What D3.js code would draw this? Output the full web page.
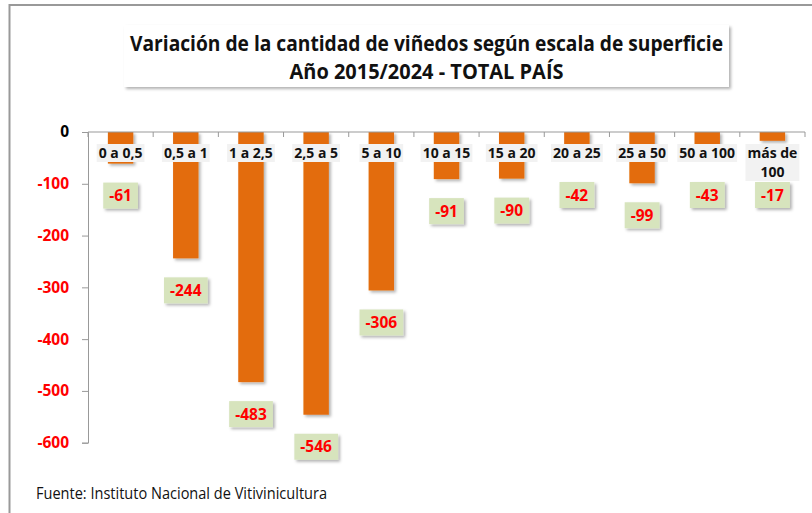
<!DOCTYPE html>
<html>
<head>
<meta charset="utf-8">
<script src="https://cdn.jsdelivr.net/npm/d3@7"></script>
<style>
  body { margin: 0; background: #fff; }
  svg { display: block; }
</style>
</head>
<body>
<div id="chart"></div>
<script>
// data
const categories = ["0 a 0,5", "0,5 a 1", "1 a 2,5", "2,5 a 5", "5 a 10", "10 a 15",
                    "15 a 20", "20 a 25", "25 a 50", "50 a 100", "más de 100"];
const variation = [-61, -244, -483, -546, -306, -91, -90, -42, -99, -43, -17];
const yTicks = [0, -100, -200, -300, -400, -500, -600];
const titleLines = ["Variación de la cantidad  de viñedos según escala de superficie",
                    "Año 2015/2024 - TOTAL PAÍS"];
const source = "Fuente: Instituto Nacional de Vitivinicultura";

const width = 812, height = 513;
const svg = d3.select("#chart").append("svg")
    .attr("width", width)
    .attr("height", height);

// drop shadow used on bars and boxes
const defs = svg.append("defs");
defs.append("filter")
    .attr("id", "shadow")
    .attr("x", "-20%").attr("y", "-20%")
    .attr("width", "150%").attr("height", "150%")
    .append("feDropShadow")
    .attr("dx", 2).attr("dy", 2)
    .attr("stdDeviation", 1.5)
    .attr("flood-color", "#000")
    .attr("flood-opacity", 0.3);

// outer frame (top and left edges only visible)
svg.append("line")
    .attr("x1", 9).attr("x2", width).attr("y1", 5).attr("y2", 5)
    .attr("stroke", "#999").attr("stroke-width", 2);
svg.append("line")
    .attr("x1", 9.5).attr("x2", 9.5).attr("y1", 4).attr("y2", height)
    .attr("stroke", "#999").attr("stroke-width", 2);

// title box
svg.append("rect")
    .attr("x", 124).attr("y", 25)
    .attr("width", 605).attr("height", 62)
    .attr("fill", "#fff")
    .attr("filter", "url(#shadow)");

svg.selectAll(".title")
    .data(titleLines)
    .enter().append("text")
    .attr("class", "title")
    .attr("x", 426.5)
    .attr("y", (d, i) => 51 + i * 28)
    .attr("text-anchor", "middle")
    .attr("font-family", "'Open Sans', sans-serif")
    .attr("font-weight", "bold")
    .attr("font-size", 21)
    .attr("textLength", (d, i) => i === 0 ? 593 : 274)
    .attr("lengthAdjust", "spacingAndGlyphs")
    .attr("fill", "#111")
    .text(d => d);

// scales
const x = d3.scaleBand()
    .domain(categories)
    .range([88, 805])
    .padding(0);

const y = d3.scaleLinear()
    .domain([-600, 0])
    .range([442.7, 132]);

const barW = x.bandwidth() * 0.39;

// y axis
const yAxis = svg.append("g")
    .attr("transform", "translate(88,0)")
    .call(d3.axisLeft(y)
        .tickValues(yTicks)
        .tickSize(6)
        .tickPadding(13)
        .tickFormat(d => String(d)));
yAxis.select(".domain").attr("stroke", "#999");
yAxis.selectAll(".tick line").attr("stroke", "#999");
yAxis.selectAll(".tick text")
    .attr("font-family", "'Open Sans', sans-serif")
    .attr("font-weight", "bold")
    .attr("font-size", 15.5)
    .attr("fill", d => d < 0 ? "#ff0000" : "#000");

// bars
svg.selectAll(".bar")
    .data(variation)
    .enter().append("rect")
    .attr("class", "bar")
    .attr("x", (d, i) => x(categories[i]) + (x.bandwidth() - barW) / 2)
    .attr("y", y(0))
    .attr("width", barW)
    .attr("height", d => y(d) - y(0))
    .attr("fill", "#e36c0a")
    .attr("filter", "url(#shadow)");

// x axis line and ticks at band edges
const xAxis = svg.append("g");
xAxis.append("line")
    .attr("x1", 88).attr("x2", 805)
    .attr("y1", y(0)).attr("y2", y(0))
    .attr("stroke", "#999");
xAxis.selectAll(".xtick")
    .data(categories.map(c => x(c)).concat([x.range()[1]]))
    .enter().append("line")
    .attr("class", "xtick")
    .attr("x1", d => d).attr("x2", d => d)
    .attr("y1", y(0)).attr("y2", y(0) + 5)
    .attr("stroke", "#999");

// category labels on a light gray box
const catG = svg.selectAll(".cat")
    .data(categories)
    .enter().append("g")
    .attr("class", "cat")
    .attr("transform", d => `translate(${x(d) + x.bandwidth() / 2},0)`);

const catText = catG.append("text")
    .attr("text-anchor", "middle")
    .attr("font-family", "'Open Sans', sans-serif")
    .attr("font-weight", "bold")
    .attr("font-size", 14)
    .attr("fill", "#111");

catText.each(function (d) {
    const t = d3.select(this);
    if (d === "más de 100") {
        t.append("tspan").attr("x", 0).attr("y", 158).text("más de");
        t.append("tspan").attr("x", 0).attr("y", 177).text("100");
    } else {
        t.append("tspan").attr("x", 0).attr("y", 158).text(d);
    }
});

catG.each(function () {
    const g = d3.select(this);
    const bb = g.select("text").node().getBBox();
    g.insert("rect", "text")
        .attr("x", bb.x - 2)
        .attr("y", bb.y + 1)
        .attr("width", bb.width + 4)
        .attr("height", bb.height - 1)
        .attr("fill", "#f2f2f2");
});

// value labels: green boxes below the bars
const valG = svg.selectAll(".val")
    .data(variation)
    .enter().append("g")
    .attr("class", "val")
    .attr("transform", (d, i) =>
        `translate(${x(categories[i]) + x.bandwidth() / 2},${Math.max(y(d) + 32, 195)})`);

valG.append("text")
    .attr("text-anchor", "middle")
    .attr("dy", "0.36em")
    .attr("font-family", "'Open Sans', sans-serif")
    .attr("font-weight", "bold")
    .attr("font-size", 15.5)
    .attr("fill", "#ff0000")
    .text(d => d);

valG.each(function () {
    const g = d3.select(this);
    const bb = g.select("text").node().getBBox();
    g.insert("rect", "text")
        .attr("x", bb.x - 6)
        .attr("y", -13)
        .attr("width", bb.width + 12)
        .attr("height", 26)
        .attr("fill", "#d7e4bd")
        .attr("filter", "url(#shadow)");
});

// source note
svg.append("text")
    .attr("x", 36)
    .attr("y", 499)
    .attr("font-family", "'Open Sans', sans-serif")
    .attr("font-size", 16)
    .attr("textLength", 291)
    .attr("lengthAdjust", "spacingAndGlyphs")
    .attr("fill", "#111")
    .text(source);
</script>
</body>
</html>
